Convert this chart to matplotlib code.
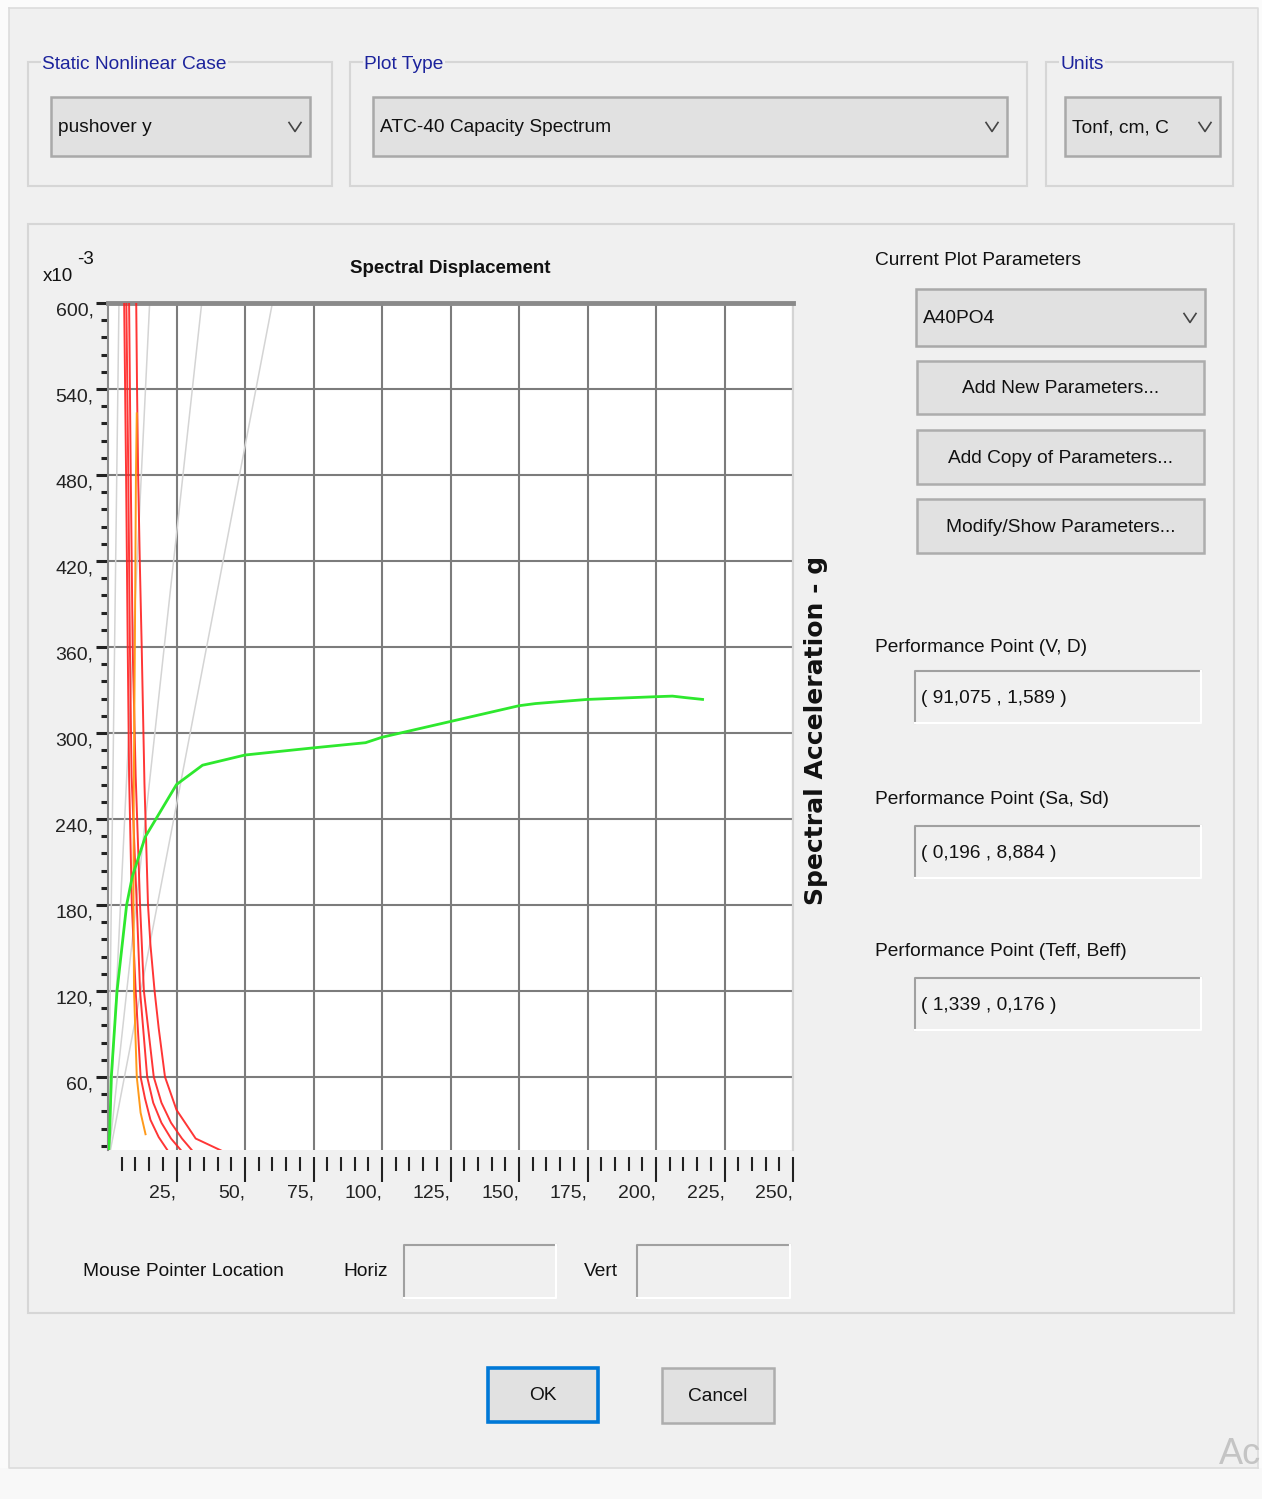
import numpy as np
import matplotlib.pyplot as plt
from matplotlib.patches import Rectangle
from matplotlib.ticker import FixedLocator, FuncFormatter

W, H = 1262, 1499
BG = '#f0f0f0'
NARROW = ['Liberation Sans', 'DejaVu Sans']
FS = 13.8

# capacity curve (green), Sd in cm, Sa in g x10^-3
cap_sd = [0.0, 0.6, 1.2, 3.3, 6.8, 8.9, 13.6, 25.0, 34.5, 50.0, 75.0,
          94.0, 100.0, 125.0, 150.0, 156.0, 175.0, 200.0, 206.0, 211.0, 217.0]
cap_sa = [0.0, 20.0, 60.0, 120.0, 180.0, 200.0, 227.5, 264.0, 277.5, 284.6, 289.6,
          293.2, 297.0, 308.0, 319.0, 320.5, 323.4, 325.3, 325.7, 324.6, 323.4]

# demand spectra (red)
dem1_sd = [5.9, 6.6, 7.2, 7.7, 8.7, 10.1, 11.9, 13.5, 15.5, 18.5, 22.0]
dem1_sa = [600, 480, 360, 270, 180, 120, 60, 45, 30, 18, 8]
dem2_sd = [6.7, 7.4, 8.0, 8.6, 10.5, 11.7, 14.3, 16.5, 19.5, 23.0, 27.0]
dem2_sa = [600, 480, 360, 270, 180, 120, 60, 42, 28, 17, 8]
dem3_sd = [7.7, 8.3, 9.0, 10.1, 11.7, 13.1, 16.7, 19.5, 23.0, 27.0, 31.0]
dem3_sa = [600, 480, 360, 270, 180, 120, 60, 42, 28, 17, 8]
dem4_sd = [10.3, 10.6, 11.0, 11.6, 12.3, 13.3, 14.6, 15.5, 17.0, 18.5, 20.8, 25.0, 32.0, 42.0]
dem4_sa = [600, 540, 480, 420, 360, 265, 180, 152, 120, 94, 60, 37, 17, 8]

# single demand spectrum (orange)
sds_sd = [10.5, 10.2, 9.8, 9.4, 9.3, 9.5, 10.5, 11.9, 13.7]
sds_sa = [523, 480, 360, 260, 180, 120, 60, 35, 20]

# constant period lines: Sd reached at Sa = 600e-3
period_sd_top = [4.0, 15.2, 34.2, 60.0]

x_labels = [25, 50, 75, 100, 125, 150, 175, 200, 225, 250]
y_labels = [60, 120, 180, 240, 300, 360, 420, 480, 540, 600]

fig = plt.figure(figsize=(W / 100, H / 100), dpi=100, facecolor=BG)
bg = fig.add_axes([0, 0, 1, 1])
bg.set_xlim(0, W)
bg.set_ylim(H, 0)
bg.axis('off')
bg.set_facecolor(BG)


def rect(x0, y0, x1, y1, fc='none', ec='none', lw=1.0, z=1):
    bg.add_patch(Rectangle((x0, y0), x1 - x0, y1 - y0, facecolor=fc,
                           edgecolor=ec, linewidth=lw, zorder=z))


def text(x, y, s, size=FS, color='#111111', ha='left', va='center', **kw):
    kw.setdefault('family', NARROW)
    bg.text(x, y, s, fontsize=size, color=color, ha=ha, va=va, **kw)


def chevron(cx, cy):
    bg.plot([cx - 6, cx, cx + 6], [cy - 4, cy + 5, cy - 4], color='#444444',
            lw=1.2, zorder=3)


def combo(x0, y0, x1, y1, label):
    rect(x0, y0, x1, y1, fc='#e1e1e1', ec='#a9a9a9', lw=1.8, z=2)
    text(x0 + 7, (y0 + y1) / 2 + 1, label)
    chevron(x1 - 15, (y0 + y1) / 2)


def button(x0, y0, x1, y1, label, ec='#adadad', lw=1.8):
    rect(x0, y0, x1, y1, fc='#e1e1e1', ec=ec, lw=lw, z=2)
    text((x0 + x1) / 2, (y0 + y1) / 2 + 1, label, ha='center')


def sunken(x0, y0, x1, y1, label=None):
    bg.plot([x0, x0, x1], [y1, y0, y0], color='#a0a0a0', lw=1.5, zorder=3)
    bg.plot([x0, x1, x1], [y1, y1, y0], color='white', lw=1.5, zorder=3)
    if label:
        text(x0 + 6, (y0 + y1) / 2 + 1, label)


def group(x0, y0, x1, y1, title=None):
    rect(x0, y0, x1, y1, ec='#d6d6d6', lw=1.5, z=1)
    if title:
        bg.text(x0 + 14, y0 + 2, title, fontsize=FS, color='#1c239c', ha='left',
                va='center', family=NARROW,
                bbox=dict(fc=BG, ec='none', pad=1.0), zorder=2)


# window frame
rect(0, 0, W, 8, fc='#fbfbfb')
rect(0, 0, 9, H, fc='#fbfbfb')
rect(1258, 0, W, H, fc='#fbfbfb')
rect(0, 1468, W, H, fc='#f8f8f8')
bg.plot([9, 1258, 1258], [8, 8, 1468], color='#dcdcdc', lw=1.2)
bg.plot([9, 9, 1258], [8, 1468, 1468], color='#dcdcdc', lw=1.2)
text(1261, 1455, 'Ac', size=26, color='#c4c4c4', ha='right')

# top group boxes
group(28, 62, 332, 186, 'Static Nonlinear Case')
combo(51, 97, 310, 156, 'pushover y')
group(350, 62, 1027, 186, 'Plot Type')
combo(373, 97, 1007, 156, 'ATC-40 Capacity Spectrum')
group(1046, 62, 1233, 186, 'Units')
combo(1065, 97, 1220, 156, 'Tonf, cm, C')

# main panel
group(28, 224, 1234, 1313)

# right side controls
text(875, 260, 'Current Plot Parameters')
combo(916, 289, 1205, 346, 'A40PO4')
button(917, 361, 1204, 414, 'Add New Parameters...')
button(917, 430, 1204, 484, 'Add Copy of Parameters...')
button(917, 499, 1204, 553, 'Modify/Show Parameters...')

text(875, 647, 'Performance Point (V, D)')
sunken(915, 671, 1201, 723, '( 91,075 , 1,589 )')
text(875, 799, 'Performance Point (Sa, Sd)')
sunken(915, 826, 1201, 878, '( 0,196 , 8,884 )')
text(875, 951, 'Performance Point (Teff, Beff)')
sunken(915, 978, 1201, 1030, '( 1,339 , 0,176 )')

# mouse pointer row
text(83, 1272, 'Mouse Pointer Location')
text(343, 1272, 'Horiz')
sunken(404, 1245, 556, 1298)
text(584, 1272, 'Vert')
sunken(637, 1245, 790, 1298)

# dialog buttons
button(488, 1368, 598, 1422, 'OK', ec='#0078d7', lw=2.6)
button(662, 1368, 774, 1423, 'Cancel')

# plot titles
text(450, 268, 'Spectral Displacement', size=13.5, ha='center', weight='bold')
text(43, 276, 'x10', size=13.5)
text(77, 259, '-3', size=13.5)
bg.text(816, 730, 'Spectral Acceleration - g', rotation=90, fontsize=18,
        weight='bold', family='DejaVu Sans', color='#111111', ha='center',
        va='center')

# plot axes
left, right, top, bottom = 108, 793, 303, 1150
ax = fig.add_axes([left / W, 1 - bottom / H, (right - left) / W, (bottom - top) / H])
ax.set_facecolor('white')

for sd_top in period_sd_top:
    ax.plot([0, sd_top], [0, 600], color='#d4d4d4', lw=1.1, zorder=2)
for xs, ys in [(dem1_sd, dem1_sa), (dem2_sd, dem2_sa), (dem3_sd, dem3_sa),
               (dem4_sd, dem4_sa)]:
    ax.plot(xs, ys, color='#ff2020', lw=1.4, alpha=0.9, zorder=3)
ax.plot(sds_sd, sds_sa, color='#ff9a1a', lw=1.4, zorder=4)
ax.plot(cap_sd, cap_sa, color='#2ee82e', lw=2.0, zorder=5)

ax.set_xlim(0, 250)
ax.set_ylim(9, 600)
ax.set_xticks(x_labels)
ax.set_yticks(y_labels)
ax.xaxis.set_minor_locator(FixedLocator([v for v in range(5, 250, 5) if v % 25]))
ax.yaxis.set_minor_locator(FixedLocator([v for v in range(12, 600, 12) if v % 60]))
fmt = FuncFormatter(lambda v, p: f'{int(round(v))},')
ax.xaxis.set_major_formatter(fmt)
ax.yaxis.set_major_formatter(fmt)
ax.grid(True, which='major', color='#7c7c7c', lw=1.5, zorder=1)
ax.set_axisbelow(True)

ax.spines['bottom'].set_position(('outward', 5))
ax.spines['bottom'].set_visible(False)
ax.spines['top'].set_color('#8a8a8a')
ax.spines['top'].set_linewidth(3.5)
ax.spines['right'].set_color('#d4d4d4')
ax.spines['right'].set_linewidth(1.5)
ax.spines['left'].set_color('#8c8c8c')
ax.spines['left'].set_linewidth(1.5)

ax.tick_params(axis='x', which='major', length=18, width=1.5, color='#222222',
               pad=2, labelsize=14, labelcolor='#222222')
ax.tick_params(axis='x', which='minor', length=10, width=1.5, color='#222222')
ax.tick_params(axis='y', which='major', length=8.5, width=2.2, color='#222222',
               pad=2, labelsize=14, labelcolor='#222222')
ax.tick_params(axis='y', which='minor', length=5, width=2.2, color='#222222')
for lab in ax.get_xticklabels():
    lab.set_ha('right')
    lab.set_family(NARROW)
for lab in ax.get_yticklabels():
    lab.set_va('top')
    lab.set_family(NARROW)

fig.savefig('out.png', dpi=100, facecolor=BG)
